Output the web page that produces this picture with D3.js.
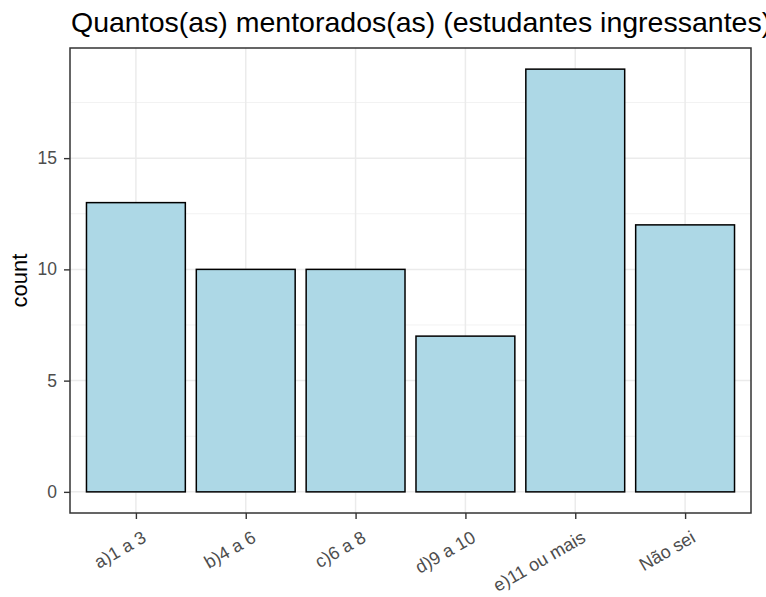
<!DOCTYPE html>
<html lang="pt">
<head>
<meta charset="utf-8">
<script src="https://d3js.org/d3.v7.min.js"></script>
<style>
  body { margin: 0; background: #fff; }
  text { font-family: Arial, "Liberation Sans", sans-serif; }
</style>
</head>
<body>
<div id="chart"></div>
<script>
var categories = ["a)1 a 3", "b)4 a 6", "c)6 a 8", "d)9 a 10", "e)11 ou mais", "Não sei"];
var counts = [13, 10, 10, 7, 19, 12];
var yTicks = [0, 5, 10, 15];
var minorTicks = [2.5, 7.5, 12.5, 17.5];

var W = 766, H = 597;
var margin = {top: 48, right: 15, bottom: 84, left: 70};
var width = W - margin.left - margin.right,
    height = H - margin.top - margin.bottom;
var font = "Arial, 'Liberation Sans', sans-serif";

var svg = d3.select("#chart").append("svg")
    .attr("width", W).attr("height", H);

// title runs off the right edge, as in the original picture
svg.append("text")
    .attr("x", margin.left + 1).attr("y", 32)
    .attr("font-size", 28.5).attr("fill", "#000")
    .text("Quantos(as) mentorados(as) (estudantes ingressantes) você gostaria de ter?");

var g = svg.append("g").attr("transform", "translate(" + margin.left + "," + margin.top + ")");

// discrete scale like ggplot: 0.6 of a step added on each side
var x = d3.scaleLinear().domain([0.4, categories.length + 0.6]).range([0, width]);
var ymax = d3.max(counts);
var y = d3.scaleLinear().domain([-ymax * 0.05, ymax * 1.05]).range([height, 0]);

// grid
g.selectAll(".minor").data(minorTicks).enter().append("line")
    .attr("x1", 0).attr("x2", width)
    .attr("y1", function(d) { return y(d); }).attr("y2", function(d) { return y(d); })
    .attr("stroke", "#f2f2f2").attr("stroke-width", 1);
g.selectAll(".major").data(yTicks).enter().append("line")
    .attr("x1", 0).attr("x2", width)
    .attr("y1", function(d) { return y(d); }).attr("y2", function(d) { return y(d); })
    .attr("stroke", "#ebebeb").attr("stroke-width", 1.5);
g.selectAll(".vmajor").data(categories).enter().append("line")
    .attr("x1", function(d, i) { return x(i + 1); }).attr("x2", function(d, i) { return x(i + 1); })
    .attr("y1", 0).attr("y2", height)
    .attr("stroke", "#ebebeb").attr("stroke-width", 1.5);

// bars
var bw = x(1.9) - x(1);
g.selectAll(".bar").data(counts).enter().append("rect")
    .attr("x", function(d, i) { return x(i + 1) - bw / 2; })
    .attr("y", function(d) { return y(d); })
    .attr("width", bw)
    .attr("height", function(d) { return y(0) - y(d); })
    .attr("fill", "#add8e6").attr("stroke", "#000").attr("stroke-width", 1.5);

// panel border
g.append("rect").attr("width", width).attr("height", height)
    .attr("fill", "none").attr("stroke", "#333333").attr("stroke-width", 1.5);

// y axis
var ya = g.append("g").call(d3.axisLeft(y).tickValues(yTicks).tickSize(6).tickPadding(7));
ya.select(".domain").remove();
ya.selectAll("line").attr("stroke", "#333333").attr("stroke-width", 1.4);
ya.selectAll("text").attr("fill", "#4d4d4d").attr("font-size", 17.5).style("font-family", font);

// x axis
var xa = g.append("g").attr("transform", "translate(0," + height + ")")
    .call(d3.axisBottom(x).tickValues(d3.range(1, categories.length + 1))
        .tickFormat(function(d) { return categories[d - 1]; }).tickSize(6));
xa.select(".domain").remove();
xa.selectAll("line").attr("stroke", "#333333").attr("stroke-width", 1.4);
xa.selectAll("text")
    .attr("fill", "#4d4d4d").attr("font-size", 18)
    .style("font-family", font)
    .attr("text-anchor", "end")
    .attr("dy", null).attr("y", 0)
    .attr("transform", "translate(11,28) rotate(-30)");

// y label
svg.append("text")
    .attr("transform", "translate(27," + (margin.top + height / 2) + ") rotate(-90)")
    .attr("text-anchor", "middle").attr("font-size", 22).attr("fill", "#000")
    .text("count");
</script>
</body>
</html>
